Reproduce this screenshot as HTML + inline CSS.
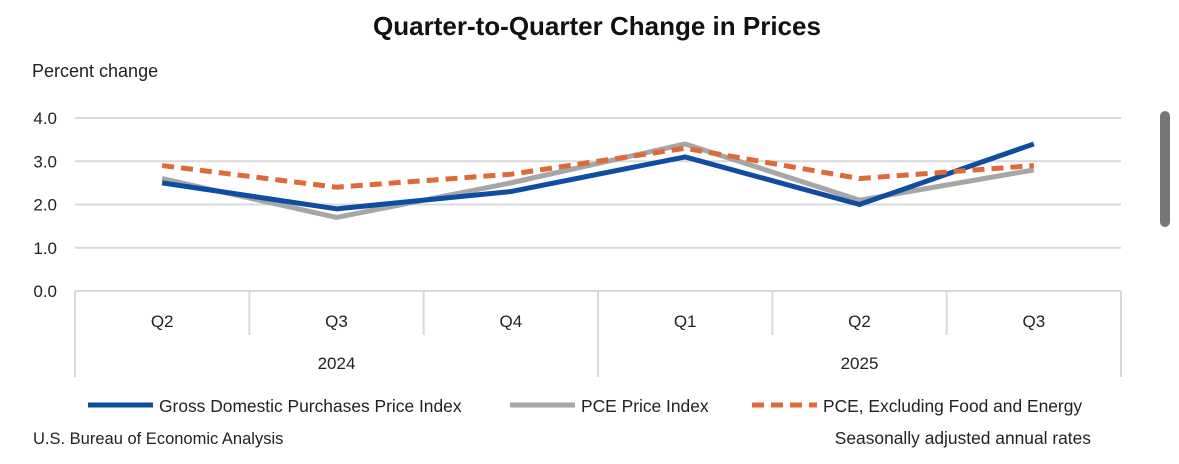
<!DOCTYPE html>
<html><head><meta charset="utf-8"><style>
html,body{margin:0;padding:0;background:#fff;width:1179px;height:464px;overflow:hidden;font-family:"Liberation Sans",sans-serif;}
</style></head><body>
<svg width="1179" height="464" xmlns="http://www.w3.org/2000/svg" id="chart" font-family="Liberation Sans, sans-serif">
<text x="597" y="35" text-anchor="middle" font-size="26" font-weight="bold" fill="#111">Quarter-to-Quarter Change in Prices</text>
<text x="32" y="77" font-size="18" fill="#222">Percent change</text>
<g id="grid"></g><g id="xaxis"></g><g id="series"></g>
<g>
<g><line x1="88" y1="405" x2="153" y2="405" stroke="#0e4d9f" stroke-width="5"/><text x="159" y="412" font-size="17.4" fill="#222">Gross Domestic Purchases Price Index</text></g>
<g><line x1="510" y1="405" x2="575" y2="405" stroke="#a6a6a6" stroke-width="5"/><text x="581" y="412" font-size="17.4" fill="#222">PCE Price Index</text></g>
<g><line x1="752" y1="405" x2="817" y2="405" stroke="#e0693a" stroke-width="5" stroke-dasharray="12,7"/><text x="823" y="412" font-size="17.4" fill="#222">PCE, Excluding Food and Energy</text></g>
</g>
<text x="33" y="444" font-size="16.5" fill="#222">U.S. Bureau of Economic Analysis</text>
<text x="1091" y="444" text-anchor="end" font-size="17.4" fill="#222">Seasonally adjusted annual rates</text>
<rect x="1160" y="111" width="10" height="116" rx="5" fill="#777"/>
</svg>
<script>
const categories=["Q2","Q3","Q4","Q1","Q2","Q3"];
const years=["2024","2025"];
const gross=[2.5,1.9,2.3,3.1,2.0,3.4];
const pce=[2.6,1.7,2.5,3.4,2.1,2.8];
const corePce=[2.9,2.4,2.7,3.3,2.6,2.9];
const yTicks=[0,1,2,3,4];
const NS="http://www.w3.org/2000/svg";
const X0=75,X1=1121,Y0=291,Y4=118;
const bw=(X1-X0)/categories.length;
function xs(i){return X0+bw*(i+0.5);}
function ys(v){return Y0-(Y0-Y4)*v/4;}
function mk(t,a,p){const e=document.createElementNS(NS,t);for(const k in a)e.setAttribute(k,a[k]);p.appendChild(e);return e;}
const grid=document.getElementById('grid');
yTicks.forEach(v=>{
 const l=mk('line',{x1:X0,x2:X1,y1:ys(v),y2:ys(v),stroke:'#d9d9d9','stroke-width':2},grid);
 
 
 const t=mk('text',{x:57,y:ys(v)+6,'text-anchor':'end','font-size':17,fill:'#222'},grid);
 t.textContent=v.toFixed(1);
 
 
});
const xa=document.getElementById('xaxis');
for(let i=0;i<=categories.length;i++){
 const x=X0+bw*i;const full=(i%3===0);
 const l=mk('line',{x1:x,x2:x,y1:Y0,y2:full?377:335,stroke:'#d9d9d9','stroke-width':2},xa);
 
 
}
categories.forEach((c,i)=>{
 const t=mk('text',{x:xs(i),y:327,'text-anchor':'middle','font-size':17,fill:'#222'},xa);
 t.textContent=c;
 
 
});
years.forEach((y,j)=>{
 const t=mk('text',{x:X0+bw*(3*j+1.5),y:369,'text-anchor':'middle','font-size':17,fill:'#222'},xa);
 t.textContent=y;
 
 
});
const sg=document.getElementById('series');
function line(data,color,dash,name){
 const p=mk('polyline',{points:data.map((v,i)=>xs(i)+','+ys(v)).join(' '),fill:'none',stroke:color,'stroke-width':5,'stroke-linejoin':'round'},sg);
 if(dash)p.setAttribute('stroke-dasharray',dash);
 
 
}
line(pce,'#a6a6a6',null,'pce-line');
line(gross,'#0e4d9f',null,'gross-line');
line(corePce,'#e0693a','12,7','core-pce-line');
</script>
</body></html>
